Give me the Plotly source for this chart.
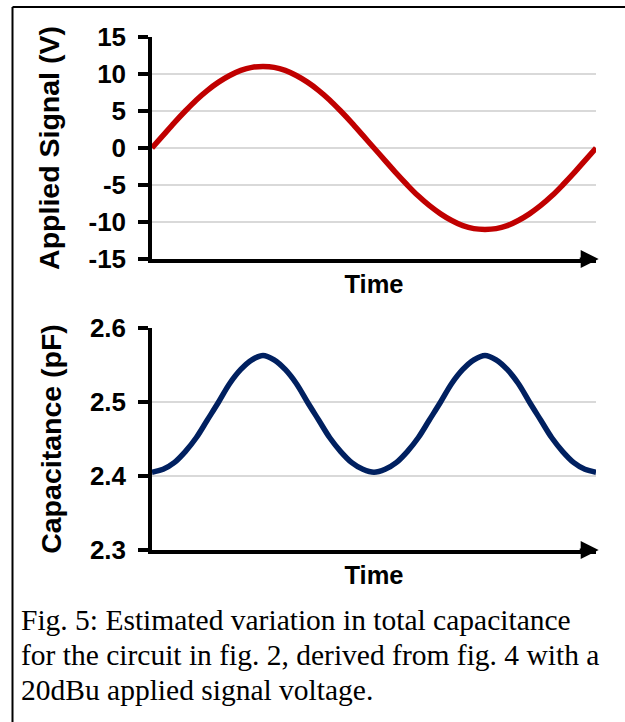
import plotly.graph_objects as go
from plotly.subplots import make_subplots

# Normalised time axis (one full cycle of the applied signal)
time = [i / 40 for i in range(41)]

# Applied signal (V)
signal_v = [
    0.0, 1.7, 3.4, 5.0, 6.5, 7.8, 8.9, 9.8, 10.5, 10.9, 11.0,
    10.9, 10.5, 9.8, 8.9, 7.8, 6.5, 5.0, 3.4, 1.7, 0.0,
    -1.7, -3.4, -5.0, -6.5, -7.8, -8.9, -9.8, -10.5, -10.9, -11.0,
    -10.9, -10.5, -9.8, -8.9, -7.8, -6.5, -5.0, -3.4, -1.7, 0.0,
]

# Estimated total capacitance (pF)
capacitance_pf = [
    2.405, 2.409, 2.418, 2.433, 2.452, 2.476, 2.500, 2.525, 2.544, 2.557, 2.563,
    2.557, 2.544, 2.525, 2.500, 2.476, 2.452, 2.433, 2.418, 2.409, 2.405,
    2.409, 2.418, 2.433, 2.452, 2.476, 2.500, 2.525, 2.544, 2.557, 2.563,
    2.557, 2.544, 2.525, 2.500, 2.476, 2.452, 2.433, 2.418, 2.409, 2.405,
]

signal_ticks = [-15, -10, -5, 0, 5, 10, 15]
signal_tick_labels = ["-15", "-10", "-5", "0", "5", "10", "15"]
cap_ticks = [2.3, 2.4, 2.5, 2.6]
cap_tick_labels = ["2.3", "2.4", "2.5", "2.6"]

caption_lines = [
    "Fig. 5: Estimated variation in total capacitance",
    "for the circuit in fig. 2, derived from fig. 4 with a",
    "20dBu applied signal voltage.",
]

W, H = 625, 722
FONT = "Liberation Sans, Arial, sans-serif"
SERIF = "Liberation Serif, Times New Roman, serif"

fig = make_subplots(rows=2, cols=1)

fig.add_trace(go.Scatter(x=time, y=signal_v, mode="lines", line=dict(color="#c00000", width=5.5, shape="spline"),
                         showlegend=False, hoverinfo="skip"), row=1, col=1)
fig.add_trace(go.Scatter(x=time, y=capacitance_pf, mode="lines", line=dict(color="#002060", width=5.5, shape="spline"),
                         showlegend=False, hoverinfo="skip"), row=2, col=1)

x_dom = [152 / W, 596 / W]
y_dom_top = [1 - 259 / H, 1 - 37 / H]
y_dom_bot = [1 - 550 / H, 1 - 328 / H]

bold = dict(family=FONT, color="black", weight="bold")

xcommon = dict(range=[0, 1.0], showgrid=False, zeroline=False, showticklabels=False, ticks="",
               showline=True, linecolor="black", linewidth=3.5, domain=x_dom, automargin=False,
               title=dict(text="Time", font=dict(size=25.5, **bold), standoff=14))
ycommon = dict(showgrid=True, gridcolor="#d9d9d9", gridwidth=2, zeroline=False,
               showline=True, linecolor="black", linewidth=3.5, automargin=False,
               ticks="outside", ticklen=10, tickwidth=3.5, tickcolor="black",
               tickfont=dict(size=26, **bold), ticklabelstandoff=7)

fig.update_xaxes(**xcommon)
fig.update_yaxes(**ycommon)
fig.update_yaxes(row=1, col=1, range=[-15, 15], tickvals=signal_ticks, ticktext=signal_tick_labels,
                 domain=y_dom_top,
                 title=dict(text="Applied Signal (V)", font=dict(size=28.5, **bold), standoff=21))
fig.update_yaxes(row=2, col=1, range=[2.3, 2.6], tickvals=cap_ticks, ticktext=cap_tick_labels,
                 domain=y_dom_bot,
                 title=dict(text="Capacitance (pF)", font=dict(size=28.5, **bold), standoff=21))

# Arrowheads on the time axes
for xr, yr, y0 in (("x", "y", -15), ("x2", "y2", 2.3)):
    fig.add_annotation(x=1.006, y=y0, xref=xr, yref=yr, ax=0.96, ay=y0, axref=xr, ayref=yr,
                       showarrow=True, arrowhead=2, arrowsize=1.2, arrowwidth=3, arrowcolor="black", text="")

# Figure caption, one annotation per line
for i, line in enumerate(caption_lines):
    fig.add_annotation(
        x=19 / W, y=1 - (620 + 35 * i) / H, xref="paper", yref="paper",
        xanchor="left", yanchor="middle", align="left", showarrow=False,
        text=line, font=dict(family=SERIF, size=29.5, color="black"),
    )

# Frame around the figure (left and top edges)
fig.add_shape(type="line", xref="paper", yref="paper", x0=12.5 / W, x1=12.5 / W, y0=0, y1=1 - 7 / H,
              line=dict(color="black", width=2))
fig.add_shape(type="line", xref="paper", yref="paper", x0=12.5 / W, x1=1, y0=1 - 7 / H, y1=1 - 7 / H,
              line=dict(color="black", width=2))

fig.update_layout(width=W, height=H, margin=dict(l=0, r=0, t=0, b=0),
                  paper_bgcolor="white", plot_bgcolor="white")

fig.write_html("out.html")
